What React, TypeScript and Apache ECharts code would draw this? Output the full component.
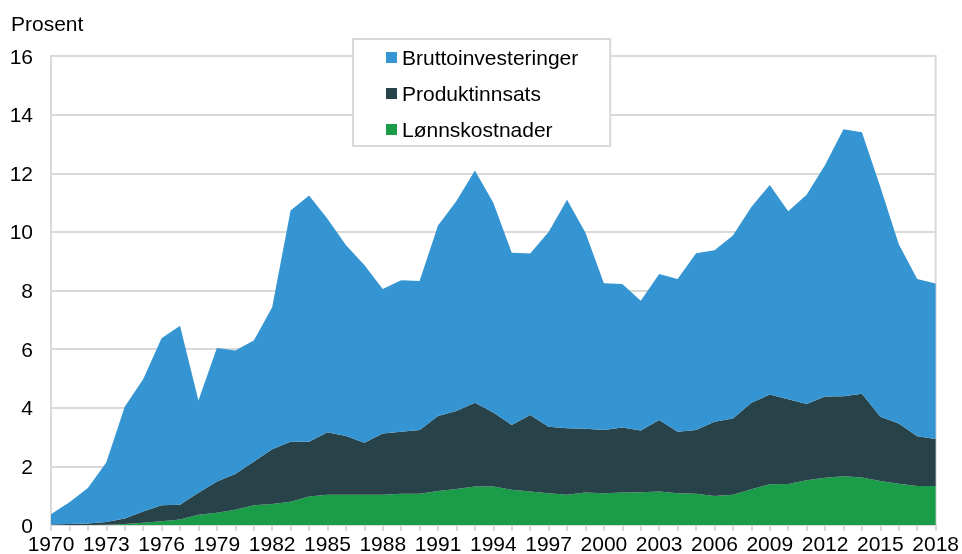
import React, { useEffect, useRef } from "react";
import * as echarts from "echarts";

const years: string[] = [];
for (let y = 1970; y <= 2018; y++) years.push(String(y));

const lonnskostnader = [
  0.0, 0.0, 0.0, 0.01, 0.03, 0.08, 0.13, 0.19, 0.35, 0.42,
  0.52, 0.67, 0.72, 0.79, 0.97, 1.03, 1.03, 1.03, 1.03, 1.07,
  1.07, 1.16, 1.23, 1.31, 1.31, 1.2, 1.14, 1.08, 1.03, 1.11,
  1.08, 1.11, 1.12, 1.14, 1.08, 1.07, 0.99, 1.03, 1.22, 1.39,
  1.4, 1.53, 1.61, 1.66, 1.62, 1.5, 1.41, 1.33, 1.33,
];

const produktinnsats = [
  0.02, 0.03, 0.05, 0.09, 0.19, 0.38, 0.54, 0.5, 0.75, 1.06,
  1.22, 1.49, 1.86, 2.05, 1.87, 2.13, 2.01, 1.78, 2.09, 2.11,
  2.17, 2.56, 2.66, 2.86, 2.53, 2.21, 2.61, 2.27, 2.27, 2.17,
  2.16, 2.22, 2.1, 2.44, 2.1, 2.17, 2.53, 2.6, 2.95, 3.06,
  2.89, 2.6, 2.77, 2.73, 2.86, 2.19, 2.05, 1.7, 1.6,
];

const bruttoinvesteringer = [
  0.35, 0.75, 1.21, 2.03, 3.81, 4.51, 5.7, 6.11, 3.15, 4.56,
  4.21, 4.13, 4.85, 7.89, 8.4, 7.29, 6.51, 6.06, 4.93, 5.17,
  5.08, 6.5, 7.16, 7.92, 7.15, 5.88, 5.51, 6.65, 7.8, 6.69,
  5.01, 4.89, 4.43, 4.98, 5.21, 6.03, 5.85, 6.25, 6.68, 7.15,
  6.41, 7.14, 7.9, 9.11, 8.92, 7.84, 6.12, 5.36, 5.31,
];

const FONT = "'Liberation Sans', Arial, sans-serif";
const GRAY = "#d9d9d9";
const C_BLUE = "#3595d2";
const C_DARK = "#284249";
const C_GREEN = "#1b9c49";

export default function App() {
  const ref = useRef<HTMLDivElement>(null);
  useEffect(() => {
    if (!ref.current) return;
    const chart = echarts.init(ref.current, undefined, { renderer: "svg" });
    const mk = (name: string, data: number[], color: string) => ({
      name,
      type: "line",
      stack: "total",
      data,
      showSymbol: false,
      symbol: "none",
      lineStyle: { width: 0, color },
      itemStyle: { color },
      areaStyle: { color, opacity: 1 },
      emphasis: { disabled: true },
    });
    chart.setOption({
      animation: false,
      textStyle: { fontFamily: FONT },
      grid: {
        left: 51,
        right: 26,
        top: 56,
        bottom: 27,
        show: true,
        borderColor: GRAY,
        borderWidth: 2,
        backgroundColor: "transparent",
      },
      graphic: [
        {
          type: "text",
          left: 11,
          top: 13,
          style: { text: "Prosent", fontSize: 21, fontFamily: FONT, fill: "#000" },
        },
      ],
      legend: {
        orient: "vertical",
        left: 353,
        top: 39,
        padding: [8, 32, 6, 33],
        itemWidth: 11,
        itemHeight: 11,
        itemGap: 15,
        icon: "rect",
        backgroundColor: "#fff",
        borderColor: GRAY,
        borderWidth: 2,
        textStyle: { fontSize: 21, fontFamily: FONT, color: "#000" },
        data: ["Bruttoinvesteringer", "Produktinnsats", "Lønnskostnader"],
      },
      xAxis: {
        type: "category",
        data: years,
        boundaryGap: false,
        axisLine: { show: true, lineStyle: { color: GRAY, width: 2 } },
        axisTick: { show: true, interval: 0, length: 6, lineStyle: { color: GRAY, width: 2 } },
        axisLabel: {
          interval: 2,
          fontSize: 21,
          lineHeight: 15,
          color: "#000",
          margin: 11,
          fontFamily: FONT,
        },
        splitLine: { show: false },
      },
      yAxis: {
        type: "value",
        min: 0,
        max: 16,
        interval: 2,
        axisLine: { show: true, lineStyle: { color: GRAY, width: 2 } },
        axisTick: { show: false },
        axisLabel: {
          fontSize: 21,
          lineHeight: 15,
          color: "#000",
          margin: 18,
          fontFamily: FONT,
        },
        splitLine: { show: true, lineStyle: { color: GRAY, width: 2 } },
      },
      series: [
        mk("Lønnskostnader", lonnskostnader, C_GREEN),
        mk("Produktinnsats", produktinnsats, C_DARK),
        mk("Bruttoinvesteringer", bruttoinvesteringer, C_BLUE),
      ],
    });
    return () => chart.dispose();
  }, []);
  return (
    <div
      ref={ref}
      style={{ position: "fixed", left: 0, top: 0, width: 962, height: 554 }}
    />
  );
}
